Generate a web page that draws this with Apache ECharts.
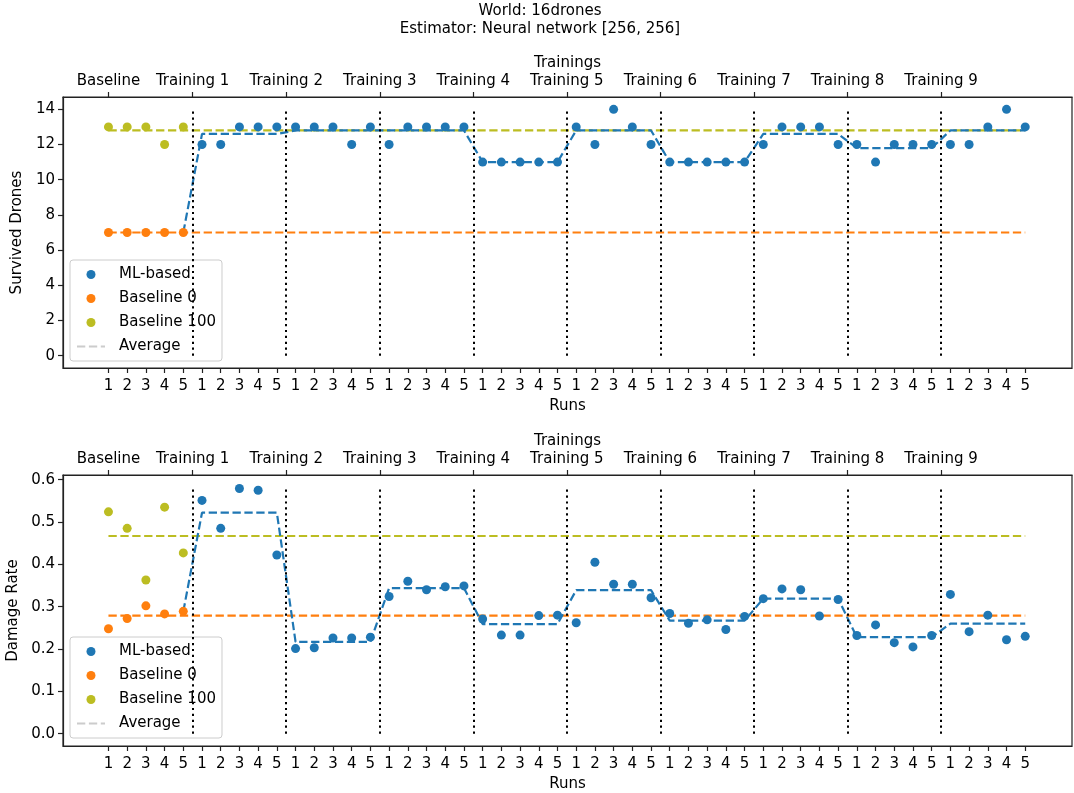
<!DOCTYPE html>
<html><head><meta charset="utf-8">
<script src="https://cdn.jsdelivr.net/npm/echarts@6/dist/echarts.min.js"></script>
<style>html,body{margin:0;padding:0;background:#fff}#c{width:1074px;height:793px}</style>
</head><body><div id="c"></div><script>
// ---- labels ----
const groupLabels = ['Baseline','Training 1','Training 2','Training 3','Training 4','Training 5','Training 6','Training 7','Training 8','Training 9'];
const runLabels = ['1','2','3','4','5'];
const groupTickPos = [0,4.5,9.5,14.5,19.5,24.5,29.5,34.5,39.5,44.5];
const separatorPos = [4.5,9.5,14.5,19.5,24.5,29.5,34.5,39.5,44.5];
const runTickPos = [0,1,2,3,4,5,6,7,8,9,10,11,12,13,14,15,16,17,18,19,20,21,22,23,24,25,26,27,28,29,30,31,32,33,34,35,36,37,38,39,40,41,42,43,44,45,46,47,48,49];

// ---- Survived drones ----
const survYTicks = [0,2,4,6,8,10,12,14];
const survBaseline0 = [7,7,7,7,7];
const survBaseline100 = [13,13,13,12,13];
const survML = [12,12,13,13,13, 13,13,13,12,13, 12,13,13,13,13, 11,11,11,11,11, 13,12,14,13,12,
                11,11,11,11,11, 12,13,13,13,12, 12,11,12,12,12, 12,12,13,14,13];
// first value: start of the ML average line at the last baseline run; then one average per training
const survMLAvg = [7, 12.6,12.8,12.8,11,12.8,11,12.6,11.8,12.8];
const survBaseline0Avg = 7;
const survBaseline100Avg = 12.8;
const survSepTop = 14;

// ---- Damage rate ----
const dmgYTicks = [0,0.1,0.2,0.3,0.4,0.5,0.6];
const dmgBaseline0 = [0.248,0.272,0.302,0.283,0.289];
const dmgBaseline100 = [0.524,0.485,0.363,0.535,0.427];
const dmgML = [0.551,0.485,0.579,0.575,0.422, 0.201,0.203,0.226,0.226,0.228, 0.324,0.360,0.340,0.347,0.349,
               0.271,0.233,0.233,0.279,0.280, 0.262,0.405,0.353,0.353,0.321, 0.284,0.261,0.269,0.246,0.277,
               0.319,0.342,0.340,0.278,0.317, 0.232,0.257,0.215,0.205,0.232, 0.329,0.241,0.280,0.222,0.230];
const dmgMLAvg = [0.289, 0.522,0.217,0.344,0.259,0.339,0.267,0.319,0.228,0.260];
const dmgBaseline0Avg = 0.279;
const dmgBaseline100Avg = 0.467;
const dmgSepTop = 0.58;

const C_ML = '#1f77b4', C_B0 = '#ff7f0e', C_B100 = '#bcbd22', C_AVG = '#cccccc';
const FONT = 'DejaVu Sans';
const FS = 15;
const DASH = [8.3, 3.6];
const LW = 2.2;
const AX = '#222';

function mlAvgLine(avg) {
  const pts = [[4, avg[0]]];
  for (let g = 1; g < avg.length; g++) for (let r = 0; r < 5; r++) pts.push([5 * g + r, avg[g]]);
  return pts;
}

const grids = [
  {left: 63, width: 1009, top: 97, height: 271, show: true, borderColor: AX, borderWidth: 1.2, containLabel: false, outerBoundsMode: 'none'},
  {left: 63, width: 1009, top: 475, height: 271, show: true, borderColor: AX, borderWidth: 1.2, containLabel: false, outerBoundsMode: 'none'}
];
const XMIN = -2.43, XMAX = 51.5;

const xAxes = [], yAxes = [], series = [], legends = [];
const panels = [
  {yName: 'Survived Drones', ymin: -0.7, ymax: 14.7, yTicks: survYTicks, fmt: v => String(v), nameGap: 37,
   ml: survML, b0: survBaseline0, b100: survBaseline100, mlAvg: survMLAvg, b0Avg: survBaseline0Avg, b100Avg: survBaseline100Avg, sepTop: survSepTop, legendTop: 260},
  {yName: 'Damage Rate', ymin: -0.029, ymax: 0.611, yTicks: dmgYTicks, fmt: v => v.toFixed(1), nameGap: 41,
   ml: dmgML, b0: dmgBaseline0, b100: dmgBaseline100, mlAvg: dmgMLAvg, b0Avg: dmgBaseline0Avg, b100Avg: dmgBaseline100Avg, sepTop: dmgSepTop, legendTop: 637}
];

const axisCommon = {
  axisLine: {show: true, onZero: false, lineStyle: {color: AX, width: 1.2}},
  axisTick: {show: true, inside: false, length: 5, lineStyle: {color: AX, width: 1.2}},
  splitLine: {show: false},
  nameTextStyle: {fontFamily: FONT, fontSize: FS, color: '#000'}
};

panels.forEach((p, i) => {
  // bottom runs axis
  xAxes.push(Object.assign({}, axisCommon, {
    type: 'value', gridIndex: i, position: 'bottom', min: XMIN, max: XMAX,
    name: 'Runs', nameLocation: 'middle', nameGap: 31,
    axisTick: Object.assign({}, axisCommon.axisTick, {customValues: runTickPos}),
    axisLabel: {customValues: runTickPos, formatter: v => runLabels[Math.round(v) % 5], margin: 11,
                fontFamily: FONT, fontSize: FS, color: '#000'}
  }));
  // top trainings axis
  xAxes.push(Object.assign({}, axisCommon, {
    type: 'value', gridIndex: i, position: 'top', min: XMIN, max: XMAX,
    name: 'Trainings', nameLocation: 'middle', nameGap: 26,
    axisTick: Object.assign({}, axisCommon.axisTick, {customValues: groupTickPos}),
    axisLabel: {customValues: groupTickPos, formatter: v => groupLabels[groupTickPos.indexOf(v)], margin: 8,
                fontFamily: FONT, fontSize: FS, color: '#000'}
  }));
  yAxes.push(Object.assign({}, axisCommon, {
    type: 'value', gridIndex: i, min: p.ymin, max: p.ymax, position: 'left',
    name: p.yName, nameLocation: 'middle', nameGap: p.nameGap, nameRotate: 90,
    axisTick: Object.assign({}, axisCommon.axisTick, {customValues: p.yTicks}),
    axisLabel: {customValues: p.yTicks, formatter: p.fmt, margin: 8, fontFamily: FONT, fontSize: FS, color: '#000'}
  }));
  const xi = i * 2;
  // averages
  series.push({name: 'Baseline 0 avg', type: 'line', xAxisIndex: xi, yAxisIndex: i, symbol: 'none', z: 2,
    lineStyle: {color: C_B0, width: LW, type: DASH}, data: [[0, p.b0Avg], [49, p.b0Avg]],
    markLine: {silent: true, symbol: ['none', 'none'], label: {show: false}, animation: false,
      lineStyle: {color: '#000', width: 2, type: [2.2, 3.7]}, emphasis: {disabled: true},
      data: separatorPos.map(x => [{coord: [x, 0]}, {coord: [x, p.sepTop]}])}});
  series.push({name: 'Baseline 100 avg', type: 'line', xAxisIndex: xi, yAxisIndex: i, symbol: 'none', z: 2,
    lineStyle: {color: C_B100, width: LW, type: DASH}, data: [[0, p.b100Avg], [49, p.b100Avg]]});
  series.push({name: 'ML avg', type: 'line', xAxisIndex: xi, yAxisIndex: i, symbol: 'none', z: 2,
    lineStyle: {color: C_ML, width: LW, type: DASH}, data: mlAvgLine(p.mlAvg)});
  // scatter points
  series.push({name: 'ML-based', type: 'scatter', xAxisIndex: xi, yAxisIndex: i, symbolSize: 9, z: 3,
    itemStyle: {color: C_ML, opacity: 1}, data: p.ml.map((v, k) => [5 + k, v])});
  series.push({name: 'Baseline 0', type: 'scatter', xAxisIndex: xi, yAxisIndex: i, symbolSize: 9, z: 3,
    itemStyle: {color: C_B0, opacity: 1}, data: p.b0.map((v, k) => [k, v])});
  series.push({name: 'Baseline 100', type: 'scatter', xAxisIndex: xi, yAxisIndex: i, symbolSize: 9, z: 3,
    itemStyle: {color: C_B100, opacity: 1}, data: p.b100.map((v, k) => [k, v])});
  series.push({name: 'Average', type: 'line', xAxisIndex: xi, yAxisIndex: i, symbol: 'none',
    lineStyle: {color: C_AVG, width: LW, type: DASH}, itemStyle: {color: C_AVG}, data: []});
  legends.push({
    orient: 'vertical', left: 70, top: p.legendTop,
    padding: [6, 6, 6, 6], itemGap: 7, itemWidth: 28, itemHeight: 9,
    backgroundColor: 'rgba(255,255,255,0.8)', borderColor: '#cccccc', borderWidth: 1, borderRadius: 3,
    selectedMode: false,
    textStyle: {fontFamily: FONT, fontSize: FS, color: '#000', lineHeight: 17, padding: [0, 0, 0, 9]},
    data: [{name: 'ML-based', icon: 'circle'}, {name: 'Baseline 0', icon: 'circle'},
           {name: 'Baseline 100', icon: 'circle'}, {name: 'Average', itemStyle: {opacity: 0}}]
  });
});

const chart = echarts.init(document.getElementById('c'), null, {renderer: 'canvas'});
chart.setOption({
  animation: false,
  backgroundColor: '#fff',
  grid: grids, xAxis: xAxes, yAxis: yAxes, series: series, legend: legends,
  graphic: [
    {type: 'text', x: 540, y: 11, style: {text: 'World: 16drones', textAlign: 'center', textVerticalAlign: 'middle', font: FS + 'px "DejaVu Sans"', fill: '#000'}},
    {type: 'text', x: 540, y: 29, style: {text: 'Estimator: Neural network [256, 256]', textAlign: 'center', textVerticalAlign: 'middle', font: FS + 'px "DejaVu Sans"', fill: '#000'}}
  ]
});
</script></body></html>
